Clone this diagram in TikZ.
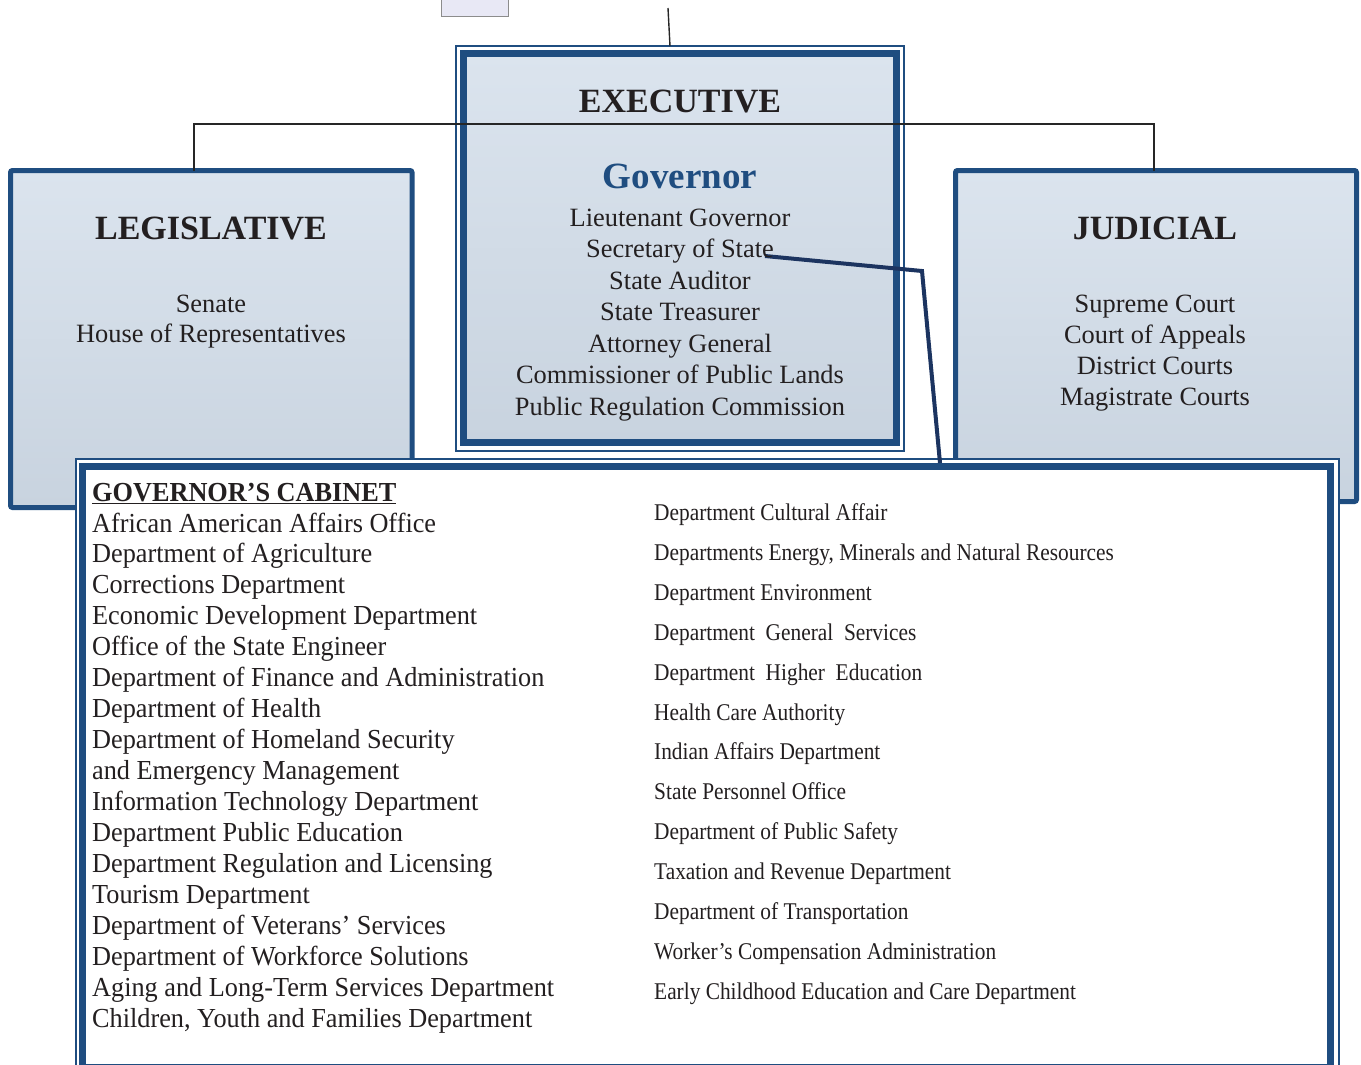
\documentclass[tikz,border=0pt]{standalone}
\usepackage{fontspec}
\setmainfont{Liberation Serif}
\newfontfamily\condfont[FakeStretch=0.89]{Liberation Serif}
\newfontfamily\leftfont[FakeStretch=0.955]{Liberation Serif}
\definecolor{brdblue}{RGB}{31,77,128}
\definecolor{navyline}{RGB}{28,52,96}
\definecolor{txt}{RGB}{35,31,32}
\definecolor{fillA}{RGB}{219,228,238}
\definecolor{fillB}{RGB}{200,211,223}
\definecolor{lav}{RGB}{232,232,245}
\begin{document}
\begin{tikzpicture}[x=1pt,y=-1pt,
  branchbox/.style={draw=brdblue, line width=5pt, top color=fillA, bottom color=fillB,
    rounded corners=2pt, inner sep=0pt, outer sep=0pt},
  thickbox/.style={draw=brdblue, line width=7pt, inner sep=0pt, outer sep=0pt},
  thinbox/.style={draw=brdblue, line width=2pt, fill=white, inner sep=0pt, outer sep=0pt},
  conn/.style={draw=black!85, line width=1.4pt},
  sosline/.style={draw=navyline, line width=4pt, line join=miter},
  title/.style={anchor=base, text=txt, font=\fontsize{34}{40}\selectfont\bfseries, inner sep=0pt},
  body/.style={anchor=base, text=txt, font=\fontsize{26.4}{31}\selectfont, inner sep=0pt},
  leftcol/.style={anchor=base west, text=txt, font=\leftfont\fontsize{27.5}{31}\selectfont, inner sep=0pt},
  rightcol/.style={anchor=base west, text=txt, font=\condfont\fontsize{24}{28}\selectfont, inner sep=0pt}]
\useasboundingbox (0,0) rectangle (1361,1065);
\clip (0,0) rectangle (1361,1065);

% small box at top
\node[draw=black!45, fill=lav, line width=1pt, minimum width=67pt, minimum height=17pt, inner sep=0pt] (stub) at (474.5,8.5) {};

% branch boxes
\node[branchbox, minimum width=401.5pt, minimum height=337pt] (leg) at (211.25,339) {};
\node[branchbox, minimum width=401pt, minimum height=331pt] (jud) at (1156,336) {};

% executive
\node[thinbox, minimum width=448pt, minimum height=405pt] (execouter) at (680,248.5) {};
\node[thickbox, top color=fillA, bottom color=fillB, minimum width=433pt, minimum height=389pt] (exec) at (680,248) {};

% black connectors
\coordinate (lx) at (194,0);
\coordinate (rx) at (1154,0);
\coordinate (hy) at (0,124);
\coordinate (topend) at (668,8);
\draw[conn] (leg.north -| lx) -- (lx |- hy) -- (rx |- hy) -- (jud.north -| rx);
\draw[conn] (topend) -- ([xshift=-10pt]execouter.north);

% cabinet
\node[thinbox, minimum width=1262.5pt, minimum height=616pt] (cabouter) at (707.25,767) {};
\node[thickbox, fill=white, minimum width=1248pt, minimum height=601pt] (cab) at (706.5,766.5) {};

% secretary of state connector
\coordinate (sos) at (765,256);
\coordinate (bend) at (922,271);
\coordinate (cabin) at (940,463);
\draw[sosline] (sos) -- (bend) -- (cabin);

% executive texts
\node[title] (exectitle) at (680,113) {EXECUTIVE};
\node[anchor=base, inner sep=0pt, text=brdblue, font=\fontsize{37}{40}\selectfont\bfseries] (gov) at (680,188) {Governor};
\foreach \t [count=\i] in {Lieutenant Governor, Secretary of State, State Auditor, State Treasurer, Attorney General, Commissioner of Public Lands, Public Regulation Commission}
  \node[body] (ex\i) at (680,{226+31.5*(\i-1)}) {\t};

% legislative texts
\node[title] (legtitle) at (211,239) {LEGISLATIVE};
\node[body] (leg1) at (211,312) {Senate};
\node[body] (leg2) at (211,342) {House of Representatives};

% judicial texts
\node[title] (judtitle) at (1155,239) {JUDICIAL};
\foreach \t [count=\i] in {Supreme Court, Court of Appeals, District Courts, Magistrate Courts}
  \node[body] (ju\i) at (1155,{312+31*(\i-1)}) {\t};

% cabinet left column
\node[leftcol, font=\leftfont\fontsize{27.5}{31}\selectfont\bfseries] (cabtitle) at (92,501) {\underline{GOVERNOR’S CABINET}};
\foreach \t [count=\i] in {African American Affairs Office, Department of Agriculture, Corrections Department, Economic Development Department, Office of the State Engineer, Department of Finance and Administration, Department of Health, Department of Homeland Security, and Emergency Management, Information Technology Department, Department Public Education, Department Regulation and Licensing, Tourism Department, Department of Veterans’ Services, Department of Workforce Solutions, Aging and Long-Term Services Department, {Children, Youth and Families Department}}
  \node[leftcol] (cl\i) at (92,{532+30.94*(\i-1)}) {\t};

% cabinet right column
\foreach \t [count=\i] in {Department Cultural Affair, {Departments Energy, Minerals and Natural Resources}, Department Environment, Department\ \ General\ \ Services, Department\ \ Higher\ \ Education, Health Care Authority, Indian Affairs Department, State Personnel Office, Department of Public Safety, Taxation and Revenue Department, Department of Transportation, Worker’s\ Compensation\ Administration, Early Childhood Education and Care Department}
  \node[rightcol] (cr\i) at (654,{520.5+39.9*(\i-1)}) {\t};
\end{tikzpicture}
\end{document}
